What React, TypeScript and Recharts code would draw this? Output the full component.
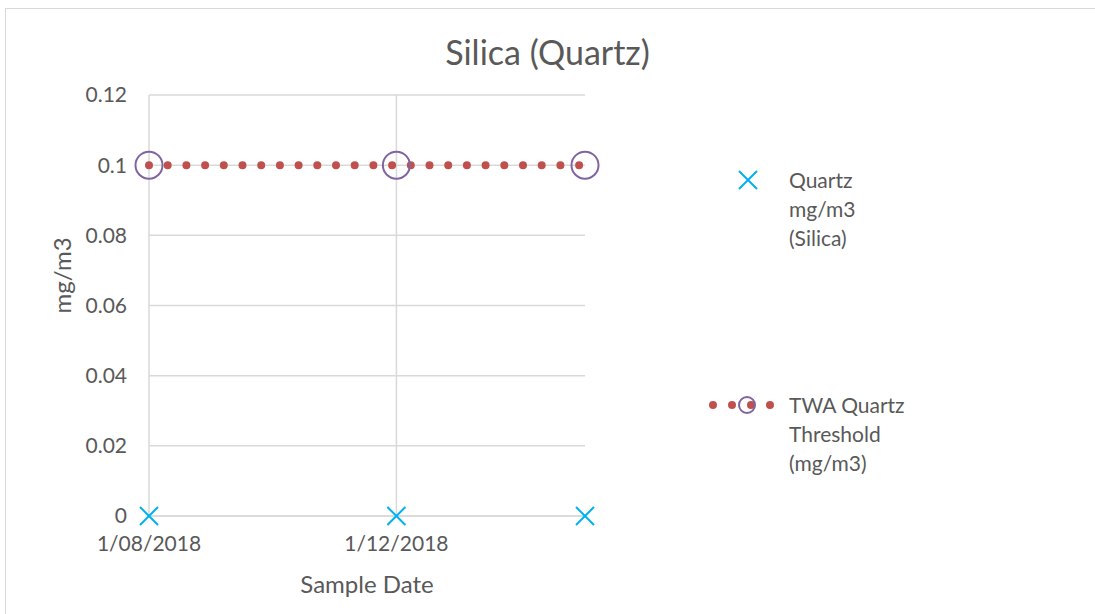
import { CartesianGrid, Line, LineChart, XAxis, YAxis } from "recharts";

const SAMPLE_DATES = ["2018-08-01", "2018-12-01", "2019-03-04"];
const QUARTZ_VALUES = [0, 0, 0];
const THRESHOLD_VALUES = [0.1, 0.1, 0.1];
const X_TICK_DATES = ["2018-08-01", "2018-12-01"];
const Y_TICKS = [0, 0.02, 0.04, 0.06, 0.08, 0.1, 0.12];

const toTime = (d: string) => new Date(d + "T00:00:00Z").getTime();

const data = SAMPLE_DATES.map((d, i) => ({
  date: toTime(d),
  quartz: QUARTZ_VALUES[i],
  threshold: THRESHOLD_VALUES[i]
}));

const FONT = "Lato, 'Open Sans', sans-serif";
const TEXT = "#595959";
const GRID = "#d9d9d9";
const CYAN = "#00b0f0";
const RED = "#c0504d";
const PURPLE = "#8064a2";

const fmtDate = (t: number) => {
  const d = new Date(t);
  const mm = String(d.getUTCMonth() + 1).padStart(2, "0");
  return `${d.getUTCDate()}/${mm}/${d.getUTCFullYear()}`;
};

const CrossDot = (props: any) => {
  const { cx, cy } = props;
  if (cx == null || cy == null) return null;
  const r = 9;
  return (
    <g stroke={CYAN} strokeWidth={2}>
      <line x1={cx - r} y1={cy - r} x2={cx + r} y2={cy + r} />
      <line x1={cx - r} y1={cy + r} x2={cx + r} y2={cy - r} />
    </g>
  );
};

const RingDot = (props: any) => {
  const { cx, cy } = props;
  if (cx == null || cy == null) return null;
  return <circle cx={cx} cy={cy} r={13.5} fill="none" stroke={PURPLE} strokeWidth={2} />;
};

function LegendBox() {
  const textStyle = { fontFamily: FONT, fontSize: 21, color: TEXT, lineHeight: "29px" };
  return (
    <div style={{ position: "absolute", left: 700, top: 165, width: 280, height: 320 }}>
      <svg width={80} height={30} style={{ position: "absolute", left: 8, top: 0 }}>
        <CrossDot cx={40} cy={15} />
      </svg>
      <div style={{ ...textStyle, position: "absolute", left: 89, top: 0 }}>
        Quartz<br />mg/m3<br />(Silica)
      </div>
      <svg width={80} height={30} style={{ position: "absolute", left: 0, top: 225 }}>
        <line x1={13} y1={15} x2={75} y2={15} stroke={RED} strokeWidth={8} strokeLinecap="round" strokeDasharray="0 19" />
        <circle cx={47} cy={15} r={8} fill="none" stroke={PURPLE} strokeWidth={2} />
      </svg>
      <div style={{ ...textStyle, position: "absolute", left: 89, top: 225 }}>
        TWA Quartz<br />Threshold<br />(mg/m3)
      </div>
    </div>
  );
}

export default function App() {
  return (
    <div style={{ position: "absolute", left: 0, top: 0, width: 1095, height: 614, overflow: "hidden", background: "#fff" }}>
      <div style={{ position: "absolute", left: 5, top: 8, width: 1120, height: 640, border: `1px solid ${GRID}` }} />
      <div style={{ position: "absolute", left: 0, top: 31, width: 1095, textAlign: "center", fontFamily: FONT, fontSize: 34, color: TEXT }}>
        Silica (Quartz)
      </div>
      <div style={{ position: "absolute", left: 0, top: 0 }}>
        <LineChart width={1095} height={614} data={data} margin={{ top: 95, right: 510, bottom: 18, left: 69 }}>
          <CartesianGrid stroke={GRID} strokeWidth={1.5} horizontalValues={Y_TICKS} verticalValues={X_TICK_DATES.map(toTime)} />
          <XAxis
            dataKey="date"
            type="number"
            scale="time"
            domain={[toTime(SAMPLE_DATES[0]), toTime(SAMPLE_DATES[2])]}
            ticks={X_TICK_DATES.map(toTime)}
            tickFormatter={fmtDate}
            height={80}
            axisLine={{ stroke: GRID, strokeWidth: 1.5 }}
            tickLine={false}
            tickSize={0}
            tickMargin={20}
            tick={{ fill: TEXT, fontFamily: FONT, fontSize: 21 }}
            label={{ value: "Sample Date", position: "insideBottom", offset: 3, fill: TEXT, fontFamily: FONT, fontSize: 24 }}
          />
          <YAxis
            type="number"
            domain={[0, 0.12]}
            ticks={Y_TICKS}
            tickFormatter={(v: number) => String(Number(v.toFixed(2)))}
            width={80}
            axisLine={false}
            tickLine={false}
            tickSize={0}
            tickMargin={22}
            tick={{ fill: TEXT, fontFamily: FONT, fontSize: 21 }}
            label={{ value: "mg/m3", angle: -90, position: "insideLeft", offset: 0, dx: -7, dy: 8, fill: TEXT, fontFamily: FONT, fontSize: 24 }}
          />
          <Line
            dataKey="quartz"
            stroke="none"
            dot={<CrossDot />}
            activeDot={false}
            isAnimationActive={false}
          />
          <Line
            dataKey="threshold"
            type="linear"
            stroke={RED}
            strokeWidth={8}
            strokeLinecap="round"
            strokeDasharray="0 18.7"
            dot={<RingDot />}
            activeDot={false}
            isAnimationActive={false}
          />
        </LineChart>
      </div>
      <LegendBox />
    </div>
  );
}
